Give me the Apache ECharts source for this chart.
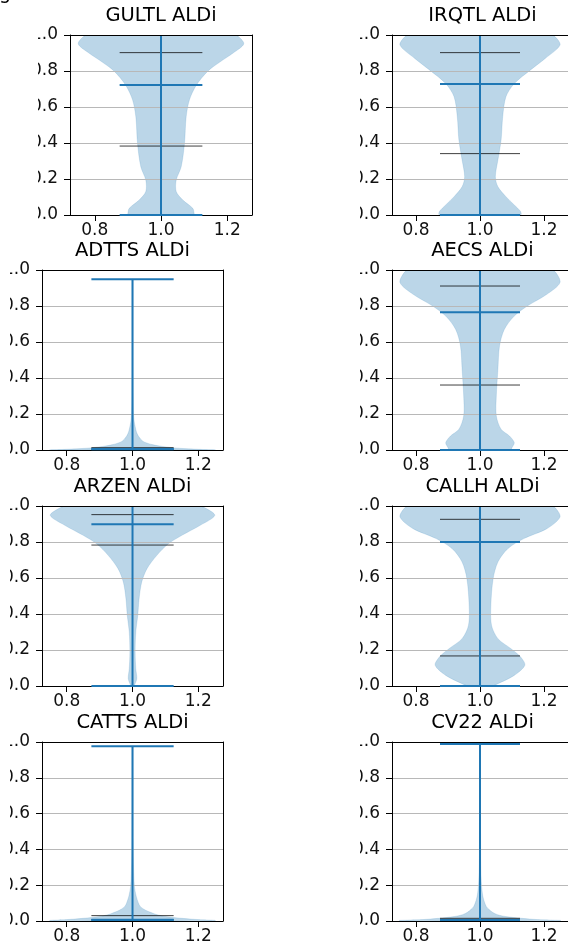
<!DOCTYPE html>
<html>
<head>
<meta charset="utf-8">
<script src="https://cdn.jsdelivr.net/npm/echarts@6/dist/echarts.min.js"></script>
<style>
html,body{margin:0;padding:0;background:#fff;}
#main{width:568px;height:947px;}
</style>
</head>
<body>
<div id="main"></div>
<script>
var titles = ['GULTL ALDi','IRQTL ALDi','ADTTS ALDi','AECS ALDi','ARZEN ALDi','CALLH ALDi','CATTS ALDi','CV22 ALDi'];

// violin outline: ALDi values and half widths (x units)
var violinY = [
    [0, 0.01, 0.037, 0.083, 0.13, 0.194, 0.268, 0.397, 0.545, 0.64, 0.722, 0.8, 0.85, 0.9, 0.95, 0.99, 1.0],
    [0, 0.019, 0.056, 0.102, 0.157, 0.213, 0.306, 0.417, 0.546, 0.657, 0.73, 0.806, 0.87, 0.944, 0.99, 1.0],
    [0, 0.004, 0.01, 0.02, 0.03, 0.045, 0.06, 0.08, 0.1, 0.13, 0.16, 0.2, 0.3, 0.5, 0.948],
    [0, 0.013, 0.041, 0.078, 0.115, 0.189, 0.3, 0.448, 0.578, 0.67, 0.744, 0.8, 0.865, 0.93, 0.99, 1.0],
    [0, 0.004, 0.04, 0.096, 0.189, 0.3, 0.393, 0.485, 0.578, 0.652, 0.726, 0.79, 0.837, 0.893, 0.948, 0.99, 1.0],
    [0, 0.013, 0.059, 0.115, 0.161, 0.207, 0.263, 0.337, 0.448, 0.596, 0.689, 0.763, 0.819, 0.874, 0.939, 0.99, 1.0],
    [0.003, 0.008, 0.015, 0.025, 0.035, 0.045, 0.06, 0.08, 0.1, 0.14, 0.19, 0.25, 0.4, 0.976],
    [0.003, 0.008, 0.015, 0.025, 0.035, 0.05, 0.065, 0.08, 0.1, 0.13, 0.16, 0.22, 0.35, 0.989]
];
var violinW = [
    [0.1, 0.1, 0.096, 0.066, 0.046, 0.046, 0.061, 0.071, 0.076, 0.086, 0.107, 0.142, 0.178, 0.218, 0.25, 0.235, 0.22],
    [0.127, 0.127, 0.107, 0.081, 0.056, 0.048, 0.056, 0.066, 0.071, 0.081, 0.107, 0.158, 0.204, 0.25, 0.235, 0.22],
    [0.25, 0.2, 0.14, 0.09, 0.06, 0.035, 0.025, 0.017, 0.012, 0.008, 0.005, 0.003, 0.002, 0.0015, 0.001],
    [0.095, 0.1, 0.107, 0.092, 0.066, 0.051, 0.051, 0.056, 0.061, 0.076, 0.107, 0.148, 0.209, 0.25, 0.235, 0.22],
    [0.006, 0.006, 0.013, 0.01, 0.008, 0.01, 0.016, 0.02, 0.028, 0.044, 0.074, 0.109, 0.15, 0.206, 0.25, 0.22, 0.2],
    [0.036, 0.056, 0.107, 0.14, 0.127, 0.097, 0.056, 0.036, 0.034, 0.041, 0.056, 0.087, 0.137, 0.209, 0.25, 0.235, 0.22],
    [0.25, 0.2, 0.15, 0.1, 0.075, 0.06, 0.04, 0.024, 0.018, 0.011, 0.006, 0.004, 0.002, 0.001],
    [0.25, 0.18, 0.13, 0.08, 0.055, 0.038, 0.028, 0.02, 0.015, 0.01, 0.007, 0.004, 0.002, 0.001]
];

// summary lines per panel
var minVals = [0, 0, 0.004, 0, 0, 0, 0.006, 0.006];
var maxVals = [1.0, 1.0, 0.948, 1.0, 1.0, 1.0, 0.976, 0.989];
var medianVals = [0.722, 0.728, 0.006, 0.765, 0.898, 0.8, 0.007, 0.006];
var lowQuant = [0.383, 0.341, 0.005, 0.361, 0.783, 0.167, 0.006, 0.005];
var highQuant = [0.902, 0.902, 0.013, 0.911, 0.952, 0.926, 0.03, 0.015];

var xTicks = [0.8, 1.0, 1.2];

// subplot boxes (px)
var boxes = [
    {left: 70, top: 35, width: 182, height: 180},
    {left: 392, top: 35, width: 181, height: 180},
    {left: 42, top: 270, width: 181, height: 180},
    {left: 392, top: 270, width: 181, height: 180},
    {left: 42, top: 506, width: 181, height: 180},
    {left: 392, top: 506, width: 181, height: 180},
    {left: 42, top: 742, width: 181, height: 179},
    {left: 392, top: 742, width: 181, height: 179}
];

var blue = '#1f77b4';
var font = 'DejaVu Sans';
var chart = echarts.init(document.getElementById('main'));

var grids = [], xAxes = [], yAxes = [], series = [], titleList = [], graphics = [];

function fmt(v) { return v.toFixed(1); }

function segSeries(segs, ax, clip) {
    return {
        type: 'custom', xAxisIndex: ax, yAxisIndex: ax, clip: clip, silent: true, z: 3,
        data: segs.map(function (s) { return [s[0], s[2]]; }), encode: {x: 0, y: 1},
        renderItem: function (params, api) {
            var s = segs[params.dataIndex];
            var p1 = api.coord([s[0], s[2]]), p2 = api.coord([s[1], s[3]]);
            return {type: 'line', shape: {x1: p1[0], y1: p1[1], x2: p2[0], y2: p2[1]},
                style: s[4] ? {stroke: blue, lineWidth: 2} : {stroke: 'rgba(0,0,0,0.75)', lineWidth: 1}};
        }
    };
}

boxes.forEach(function (b, k) {
    grids.push({left: b.left, top: b.top, width: b.width, height: b.height});
    titleList.push({
        text: titles[k], left: b.left + b.width / 2, top: b.top - 29, textAlign: 'center', padding: 0,
        textStyle: {fontSize: 19.5, fontWeight: 'normal', color: '#000', fontFamily: font}
    });
    // bottom + left axes with labels
    xAxes.push({
        type: 'value', gridIndex: k, min: 0.725, max: 1.275, z: 2,
        axisLine: {show: true, onZero: false, lineStyle: {color: '#000', width: 1}},
        axisTick: {show: true, length: 6, customValues: xTicks, lineStyle: {color: '#000'}},
        axisLabel: {customValues: xTicks, margin: 7, fontSize: 17, color: '#111', fontFamily: font, formatter: fmt},
        splitLine: {show: false}
    });
    yAxes.push({
        type: 'value', gridIndex: k, min: 0, max: 1, interval: 0.2, z: 2,
        axisLine: {show: true, onZero: false, lineStyle: {color: '#000', width: 1}},
        axisTick: {show: true, length: 6, lineStyle: {color: '#000'}},
        axisLabel: {margin: 12, fontSize: 17, color: '#111', fontFamily: font, formatter: fmt},
        splitLine: {show: true, lineStyle: {color: '#b8b8b8', width: 1}}
    });
    // top + right spines
    xAxes.push({
        type: 'value', gridIndex: k, position: 'top', min: 0.725, max: 1.275, z: 4,
        axisLine: {show: true, onZero: false, lineStyle: {color: '#000', width: 1}},
        axisTick: {show: false}, axisLabel: {show: false}, splitLine: {show: false}
    });
    yAxes.push({
        type: 'value', gridIndex: k, position: 'right', min: 0, max: 1, z: 4,
        axisLine: {show: true, onZero: false, lineStyle: {color: '#000', width: 1}},
        axisTick: {show: false}, axisLabel: {show: false}, splitLine: {show: false}
    });

    var ax = 2 * k;

    // violin body
    var pts = violinY[k].map(function (y, i) { return [1, y, violinW[k][i]]; });
    series.push({
        type: 'custom', xAxisIndex: ax, yAxisIndex: ax, clip: true, silent: true, z: 1,
        data: pts, encode: {x: 0, y: 1},
        renderItem: function (params, api) {
            if (params.dataIndex !== 0) return null;
            var lft = [], rgt = [];
            for (var i = 0; i < pts.length; i++) {
                lft.push(api.coord([1 - pts[i][2], pts[i][1]]));
                rgt.unshift(api.coord([1 + pts[i][2], pts[i][1]]));
            }
            return {type: 'polygon', shape: {points: lft.concat(rgt), smooth: 0.3},
                style: {fill: 'rgba(31,119,180,0.3)', stroke: 'rgba(31,119,180,0.15)', lineWidth: 1}};
        }
    });

    // quantile, median, min and bar lines
    series.push(segSeries([
        [0.875, 1.125, lowQuant[k], lowQuant[k], 0],
        [0.875, 1.125, highQuant[k], highQuant[k], 0],
        [1, 1, minVals[k], maxVals[k], 1],
        [0.875, 1.125, minVals[k], minVals[k], 1],
        [0.875, 1.125, medianVals[k], medianVals[k], 1]
    ], ax, false));
    // max cap (clipped at the top of the frame)
    series.push(segSeries([
        [0.875, 1.125, maxVals[k], maxVals[k], 1]
    ], ax, true));

    // tick labels are cut off on the left in the source image
    graphics.push({type: 'rect', z: 100, silent: true,
        shape: {x: b.left - 50, y: b.top - 12, width: 18, height: b.height + 24},
        style: {fill: '#fff'}});
});

graphics.push({type: 'text', z: 101, silent: true, x: -1, y: -15,
    style: {text: 'g', font: '19px "DejaVu Sans"', fill: '#000'}});

chart.setOption({
    animation: false,
    backgroundColor: '#fff',
    title: titleList,
    grid: grids,
    xAxis: xAxes,
    yAxis: yAxes,
    series: series,
    graphic: graphics
});
</script>
</body>
</html>
